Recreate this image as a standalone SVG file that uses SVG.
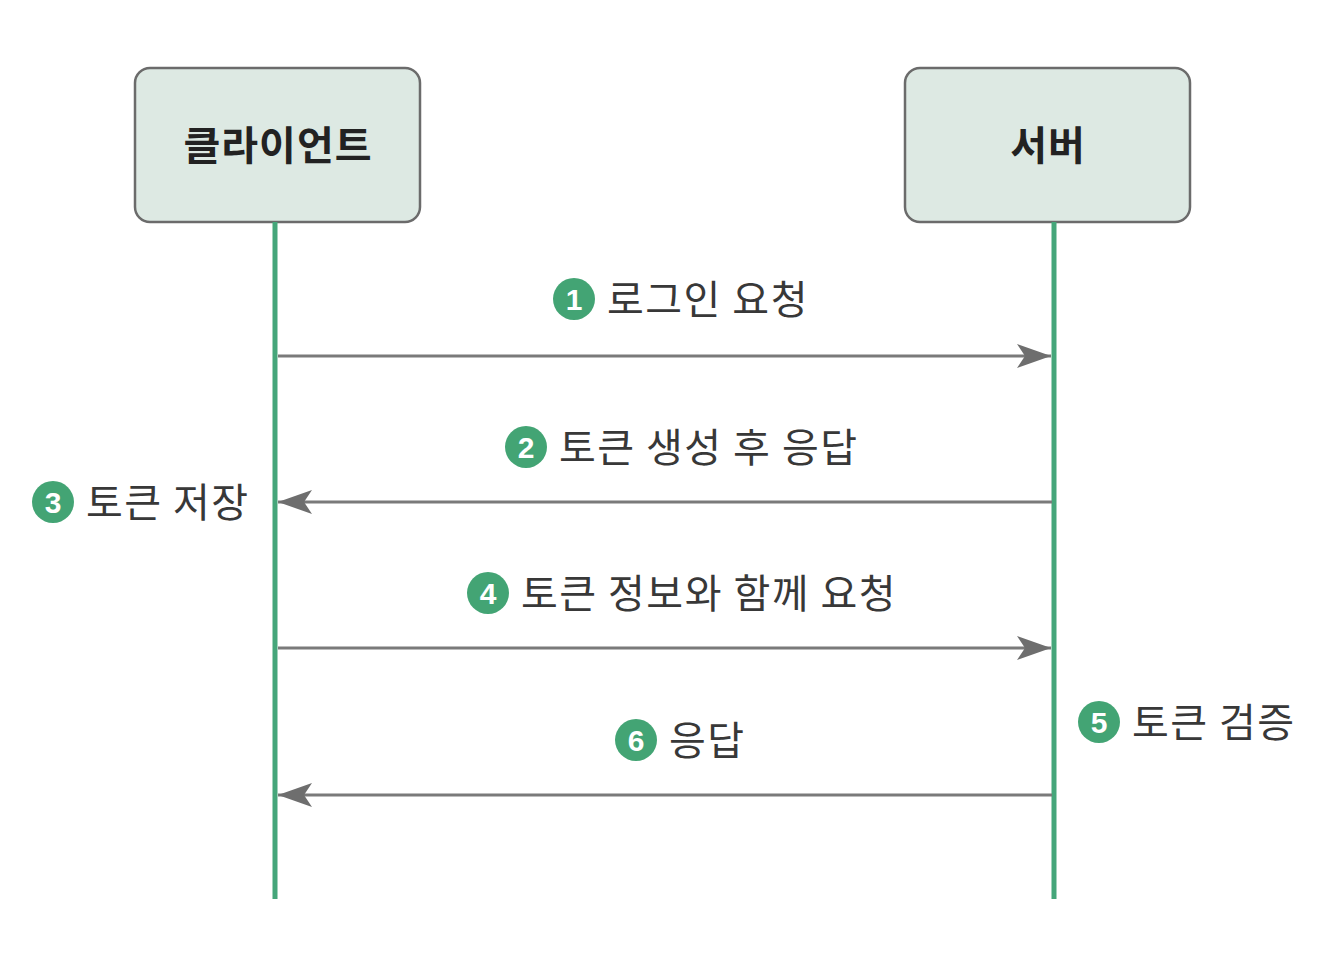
<svg xmlns="http://www.w3.org/2000/svg" width="1338" height="956" viewBox="0 0 1338 956">
<defs>
<style>
.box{fill:#dde9e3;stroke:#6b6b6b;stroke-width:2.5}
.title{font-family:"Noto Sans CJK KR","Noto Sans",sans-serif;font-weight:700;font-size:40px;letter-spacing:1px;fill:#222;text-anchor:middle}
.life{stroke:#45a67a;stroke-width:5}
.msg{stroke:#7a7a7a;stroke-width:3;fill:none}
.lbl{font-family:"Noto Sans CJK KR","Noto Sans",sans-serif;font-weight:400;font-size:40px;letter-spacing:1.5px;fill:#383838}
.num{fill:#43a474}
.numt{font-family:"Liberation Sans",Arial,sans-serif;font-weight:700;font-size:30px;fill:#fff;text-anchor:middle}
</style>
<marker id="ah" markerWidth="36" markerHeight="26" refX="34" refY="13" orient="auto" markerUnits="userSpaceOnUse">
<path d="M0,1 L34,13 L0,25 L8,13 Z" fill="#6e6e6e"/>
</marker>
</defs>
<rect width="1338" height="956" fill="#fff"/>
<g id="client">
<rect class="box" x="135" y="68" width="285" height="154" rx="15"/>
<text class="title" x="278" y="160">클라이언트</text>
</g>
<g id="server">
<rect class="box" x="905" y="68" width="285" height="154" rx="15"/>
<text class="title" x="1048" y="160">서버</text>
</g>
<g id="lifelines">
<line class="life" x1="275" y1="222" x2="275" y2="899"/>
<line class="life" x1="1054" y1="222" x2="1054" y2="899"/>
</g>
<g id="connectors">
<line class="msg" x1="278" y1="356" x2="1051" y2="356" marker-end="url(#ah)"/>
<line class="msg" x1="1052" y1="502" x2="278" y2="502" marker-end="url(#ah)"/>
<line class="msg" x1="278" y1="648" x2="1051" y2="648" marker-end="url(#ah)"/>
<line class="msg" x1="1052" y1="795" x2="278" y2="795" marker-end="url(#ah)"/>
</g>
<g id="label1">
<circle class="num" cx="574" cy="299" r="21"/><text class="numt" x="574" y="310">1</text>
<text class="lbl" x="607" y="314">로그인 요청</text>
</g>
<g id="label2">
<circle class="num" cx="526" cy="447" r="21"/><text class="numt" x="526" y="458">2</text>
<text class="lbl" x="559" y="462">토큰 생성 후 응답</text>
</g>
<g id="label3">
<circle class="num" cx="53" cy="502" r="21"/><text class="numt" x="53" y="513">3</text>
<text class="lbl" x="86" y="517">토큰 저장</text>
</g>
<g id="label4">
<circle class="num" cx="488" cy="593" r="21"/><text class="numt" x="488" y="604">4</text>
<text class="lbl" x="521" y="608">토큰 정보와 함께 요청</text>
</g>
<g id="label5">
<circle class="num" cx="1099" cy="722" r="21"/><text class="numt" x="1099" y="733">5</text>
<text class="lbl" x="1132" y="737">토큰 검증</text>
</g>
<g id="label6">
<circle class="num" cx="636" cy="740" r="21"/><text class="numt" x="636" y="751">6</text>
<text class="lbl" x="669" y="755">응답</text>
</g>
</svg>
